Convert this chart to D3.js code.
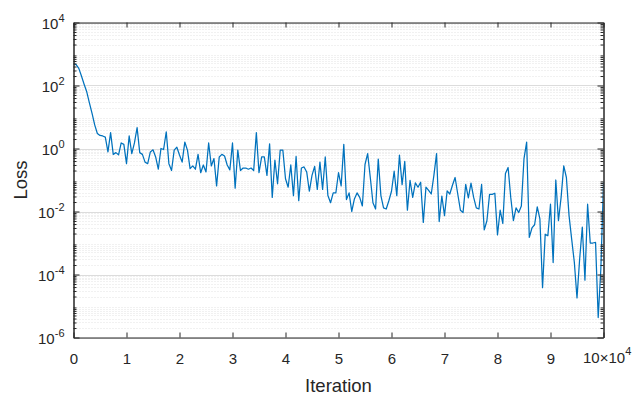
<!DOCTYPE html>
<html>
<head>
<meta charset="utf-8">
<script src="https://cdn.jsdelivr.net/npm/d3@7"></script>
<style>
  body { margin: 0; background: #fff; }
  svg { display: block; }
  text { font-family: "Liberation Sans", Arial, Helvetica, sans-serif; fill: #262626; }
</style>
</head>
<body>
<svg id="chart" width="635" height="395"></svg>
<script>
// Training loss, one sample every `sampleStep` iterations
const sampleStep = 500;
const lossValues = [
  4.9e2, 4.6e2, 3.5e2, 2.0e2, 1.1e2, 63, 28, 13, 5.6, 3.0,
  2.6, 2.5, 2.3, 0.78, 3.2, 0.65, 0.74, 0.63, 1.5, 1.35,
  0.33, 2.5, 0.69, 1.5, 4.6, 0.74, 0.65, 0.37, 0.33, 0.78,
  0.91, 0.54, 0.22, 1.0, 0.93, 3.4, 0.33, 0.20, 0.89, 1.1,
  0.62, 0.37, 1.6, 0.89, 0.23, 0.28, 0.22, 0.65, 0.17, 0.30,
  0.18, 1.5, 0.28, 0.48, 0.065, 0.54, 0.65, 0.58, 0.30, 0.21,
  1.5, 0.055, 0.89, 0.20, 0.24, 0.24, 0.22, 0.24, 0.20, 3.2,
  0.17, 0.54, 0.54, 0.14, 1.4, 0.028, 0.43, 0.076, 0.89, 0.89,
  0.11, 0.059, 0.30, 0.032, 0.56, 0.022, 0.24, 0.26, 0.18, 0.044,
  0.14, 0.27, 0.050, 0.37, 0.050, 0.54, 0.032, 0.019, 0.039, 0.039,
  0.17, 0.065, 1.35, 0.024, 0.039, 0.010, 0.025, 0.039, 0.028, 0.015,
  0.31, 0.69, 0.12, 0.019, 0.012, 0.46, 0.032, 0.013, 0.012, 0.022,
  0.044, 0.19, 0.032, 0.62, 0.071, 0.39, 0.011, 0.098, 0.028, 0.081,
  0.059, 0.085, 0.0045, 0.059, 0.047, 0.036, 0.14, 0.69, 0.0048, 0.031,
  0.0074, 0.045, 0.036, 0.068, 0.12, 0.036, 0.011, 0.0093, 0.072, 0.027,
  0.079, 0.028, 0.013, 0.012, 0.072, 0.0026, 0.0051, 0.035, 0.035, 0.038,
  0.0018, 0.011, 0.0042, 0.16, 0.25, 0.028, 0.0051, 0.013, 0.0093, 0.015,
  0.48, 1.6, 0.0015, 0.0030, 0.0038, 0.014, 0.0058, 3.8e-5, 0.0019, 0.0017,
  0.017, 2.4e-4, 0.10, 0.0051, 0.028, 0.28, 0.12, 0.0074, 0.0013, 2.4e-4,
  1.8e-5, 3.1e-4, 0.0032, 6.6e-5, 0.017, 0.0010, 0.0010, 0.00105, 4.3e-6, 1.5e-4,
  0.085
];

const xTickValues = [0, 10000, 20000, 30000, 40000, 50000, 60000, 70000, 80000, 90000, 100000];
const xTickLabels = ["0", "1", "2", "3", "4", "5", "6", "7", "8", "9", ""];
const xExponentLabel = { base: "10×10", exp: "4" };
const yTickValues = [1e4, 1e2, 1e0, 1e-2, 1e-4, 1e-6];
const yTickExponents = ["4", "2", "0", "-2", "-4", "-6"];
const xTitle = "Iteration";
const yTitle = "Loss";

const plot = { left: 73.5, right: 603.5, top: 22.5, bottom: 337.5 };
const axisColor = "#262626";
const lineColor = "#0072BD";

const svg = d3.select("#chart");

const x = d3.scaleLinear().domain([0, 100000]).range([plot.left, plot.right]);
const y = d3.scaleLog().domain([1e-6, 1e4]).range([plot.bottom, plot.top]);

// minor decade subdivisions 2..9 x 10^k
const minorValues = [];
for (let k = -6; k < 4; k++) {
  for (let m = 2; m <= 9; m++) minorValues.push(m * Math.pow(10, k));
}

// grid
const grid = svg.append("g");
grid.selectAll("line.minor").data(minorValues).join("line")
  .attr("class", "minor")
  .attr("x1", plot.left).attr("x2", plot.right)
  .attr("y1", d => Math.round(y(d)) + 0.5).attr("y2", d => Math.round(y(d)) + 0.5)
  .attr("stroke", "#e3e3e3").attr("stroke-width", 1)
  .attr("stroke-dasharray", "1,2");
grid.selectAll("line.major").data(yTickValues).join("line")
  .attr("class", "major")
  .attr("x1", plot.left).attr("x2", plot.right)
  .attr("y1", d => Math.round(y(d)) + 0.5).attr("y2", d => Math.round(y(d)) + 0.5)
  .attr("stroke", "#dcdcdc").attr("stroke-width", 1);

// loss curve
svg.append("clipPath").attr("id", "plotClip")
  .append("rect")
  .attr("x", plot.left).attr("y", plot.top)
  .attr("width", plot.right - plot.left).attr("height", plot.bottom - plot.top);

const line = d3.line()
  .x((d, i) => x(i * sampleStep))
  .y(d => y(d));

svg.append("path")
  .datum(lossValues)
  .attr("clip-path", "url(#plotClip)")
  .attr("fill", "none")
  .attr("stroke", lineColor)
  .attr("stroke-width", 1.25)
  .attr("stroke-linejoin", "round")
  .attr("d", line);

// axes (box with inward ticks on all sides)
function styleAxis(g) {
  g.selectAll("path.domain").attr("stroke", axisColor).attr("stroke-width", 1);
  g.selectAll(".tick line").attr("stroke", axisColor).attr("stroke-width", 1);
}

const xBottom = svg.append("g")
  .attr("transform", `translate(0,${plot.bottom})`)
  .call(d3.axisBottom(x).tickValues(xTickValues)
    .tickSizeInner(-5).tickSizeOuter(0).tickPadding(16)
    .tickFormat((d, i) => xTickLabels[i]));
xBottom.selectAll(".tick text").attr("font-size", 15).attr("fill", axisColor);
styleAxis(xBottom);

const xTop = svg.append("g")
  .attr("transform", `translate(0,${plot.top})`)
  .call(d3.axisTop(x).tickValues(xTickValues)
    .tickSizeInner(-5).tickSizeOuter(0).tickFormat(""));
styleAxis(xTop);

const yLeft = svg.append("g")
  .attr("transform", `translate(${plot.left},0)`)
  .call(d3.axisLeft(y).tickValues(yTickValues)
    .tickSizeInner(-6).tickSizeOuter(0).tickPadding(9)
    .tickFormat(""));
styleAxis(yLeft);
yLeft.selectAll(".tick text").each(function (d, i) {
  const t = d3.select(this)
    .attr("font-size", 15).attr("fill", axisColor)
    .attr("dy", "0.42em");
  t.append("tspan").text("10");
  t.append("tspan").attr("dy", -7).attr("font-size", 11).text(yTickExponents[i]);
});

const yLeftMinor = svg.append("g")
  .attr("transform", `translate(${plot.left},0)`)
  .call(d3.axisLeft(y).tickValues(minorValues)
    .tickSizeInner(-3).tickSizeOuter(0).tickFormat(""));
styleAxis(yLeftMinor);

const yRight = svg.append("g")
  .attr("transform", `translate(${plot.right},0)`)
  .call(d3.axisRight(y).tickValues(yTickValues)
    .tickSizeInner(-6).tickSizeOuter(0).tickFormat(""));
styleAxis(yRight);

const yRightMinor = svg.append("g")
  .attr("transform", `translate(${plot.right},0)`)
  .call(d3.axisRight(y).tickValues(minorValues)
    .tickSizeInner(-3).tickSizeOuter(0).tickFormat(""));
styleAxis(yRightMinor);

// x exponent label
const expText = svg.append("text")
  .attr("x", 583).attr("y", 363)
  .attr("font-size", 15).attr("fill", axisColor);
expText.append("tspan").text(xExponentLabel.base);
expText.append("tspan").attr("dy", -8).attr("font-size", 11).text(xExponentLabel.exp);

// axis titles
svg.append("text")
  .attr("x", (plot.left + plot.right) / 2).attr("y", 392)
  .attr("text-anchor", "middle")
  .attr("font-size", 18.5).attr("fill", axisColor)
  .text(xTitle);

svg.append("text")
  .attr("transform", `translate(27,${(plot.top + plot.bottom) / 2}) rotate(-90)`)
  .attr("text-anchor", "middle")
  .attr("font-size", 18.5).attr("fill", axisColor)
  .text(yTitle);
</script>
</body>
</html>
